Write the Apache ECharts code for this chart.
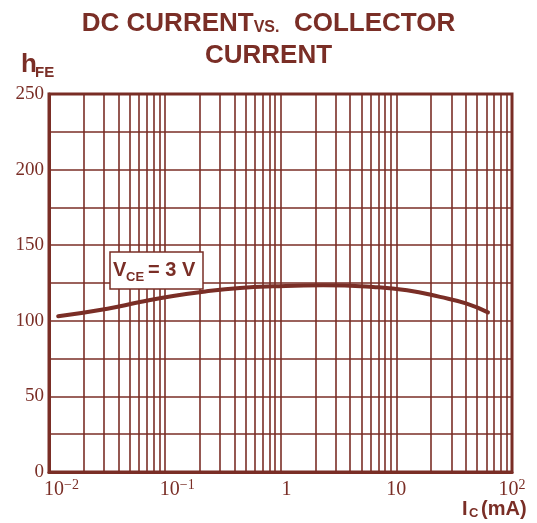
<!DOCTYPE html>
<html>
<head>
<meta charset="utf-8">
<style>
  html, body { margin: 0; padding: 0; background: #fff; }
  #chart { width: 537px; height: 523px; }
</style>
<script src="https://cdn.jsdelivr.net/npm/echarts@6/dist/echarts.min.js"></script>
</head>
<body>
<div id="chart"></div>
<script>
// hFE vs Ic curve at VCE = 3 V
const icValues = [0.012, 0.032, 0.061, 0.118, 0.23, 0.447, 0.86, 2.33, 6.3, 12.4, 23.9, 40, 62];
const hfeValues = [103, 108, 112.4, 116.4, 119.5, 121.7, 122.8, 123.5, 122.4, 120.2, 115.8, 111.5, 105.6];

// x axis decades and their labels (base + superscript)
const xDecades = [0.01, 0.1, 1, 10, 100];
const xTickBase = ['10', '10', '1', '10', '10'];
const xTickSup = ['−2', '−1', '', '', '2'];
// minor log grid lines inside each decade
const minorSteps = [2, 3, 4, 5, 6, 7, 8, 9];

const yTicks = [0, 50, 100, 150, 200, 250];

const brown = '#7a2e26';
const serif = '"Liberation Serif", "DejaVu Serif", serif';
const sans = '"Liberation Sans", Arial, sans-serif';

const minorLines = [];
xDecades.slice(0, -1).forEach(d => {
  minorSteps.forEach(m => minorLines.push({ xAxis: +(d * m).toPrecision(3) }));
});

const chart = echarts.init(document.getElementById('chart'));

const option = {
  animation: false,
  title: {
    left: 'center',
    top: 3,
    text: '{a|DC CURRENT}{v|VS.}{a|  COLLECTOR}\n{a|CURRENT}',
    textStyle: {
      rich: {
        a: { fontFamily: sans, fontWeight: 'bold', fontSize: 26, lineHeight: 32, color: brown },
        v: { fontFamily: sans, fontWeight: 'bold', fontSize: 16, lineHeight: 32, padding: [8, 0, 0, 0], color: brown }
      }
    }
  },
  grid: {
    left: 49,
    right: 25,
    top: 94,
    bottom: 51,
    show: true,
    borderColor: brown,
    borderWidth: 3
  },
  xAxis: {
    type: 'log',
    logBase: 10,
    min: 0.01,
    max: 100,
    axisLine: { show: true, lineStyle: { color: brown, width: 3 } },
    axisTick: { show: false },
    splitLine: { show: true, lineStyle: { color: brown, width: 1.6 } },
    axisLabel: {
      margin: 6,
      formatter: function (v) {
        const exp = Math.round(Math.log10(v));
        const i = xDecades.findIndex(d => Math.round(Math.log10(d)) === exp);
        if (i < 0) return '';
        let gap = '';
        if (exp < 0) gap = '{g2|}';
        else if (exp === 0) gap = '{g1|}';
        const sup = xTickSup[i] ? '{s|' + xTickSup[i] + '}' : '';
        return gap + '{b|' + xTickBase[i] + '}' + sup;
      },
      rich: {
        g2: { width: 25 },
        g1: { width: 12 },
        b: { fontFamily: serif, fontSize: 20, lineHeight: 22, color: brown, verticalAlign: 'bottom' },
        s: { fontFamily: serif, fontSize: 14, lineHeight: 14, color: brown, verticalAlign: 'top' }
      }
    }
  },
  yAxis: {
    type: 'value',
    min: 0,
    max: 250,
    interval: 25,
    axisLine: { show: true, lineStyle: { color: brown, width: 3 } },
    axisTick: { show: false },
    splitLine: { show: true, lineStyle: { color: brown, width: 1.6 } },
    axisLabel: {
      margin: 5,
      fontFamily: serif,
      fontSize: 19,
      color: brown,
      formatter: v => (yTicks.indexOf(v) >= 0 ? String(v) : '')
    }
  },
  series: [
    {
      type: 'line',
      data: icValues.map((x, i) => [x, hfeValues[i]]),
      smooth: 0.5,
      symbol: 'none',
      z: 5,
      lineStyle: { color: brown, width: 4, cap: 'round' },
      markLine: {
        silent: true,
        animation: false,
        symbol: ['none', 'none'],
        label: { show: false },
        lineStyle: { color: brown, width: 1.6, type: 'solid' },
        data: minorLines
      }
    }
  ],
  graphic: [
    // hFE
    { type: 'text', z: 100, style: { x: 21, y: 65, text: 'h', fontFamily: sans, fontWeight: 'bold', fontSize: 26, fill: brown, verticalAlign: 'middle' } },
    { type: 'text', z: 100, style: { x: 35, y: 72.5, text: 'FE', fontFamily: sans, fontWeight: 'bold', fontSize: 15, fill: brown, verticalAlign: 'middle' } },
    // Ic(mA)
    { type: 'text', z: 100, style: { x: 462, y: 509.5, text: 'I', fontFamily: sans, fontWeight: 'bold', fontSize: 20, fill: brown, verticalAlign: 'middle' } },
    { type: 'text', z: 100, style: { x: 469, y: 513.5, text: 'C', fontFamily: sans, fontWeight: 'bold', fontSize: 13, fill: brown, verticalAlign: 'middle' } },
    { type: 'text', z: 100, style: { x: 481, y: 509.5, text: '(mA)', fontFamily: sans, fontWeight: 'bold', fontSize: 20, fill: brown, verticalAlign: 'middle' } },
    // VCE = 3 V annotation box
    { type: 'rect', z: 100, shape: { x: 110, y: 252, width: 93, height: 37 }, style: { fill: '#fff', stroke: brown, lineWidth: 1.5 } },
    { type: 'text', z: 101, style: { x: 113, y: 270.5, text: 'V', fontFamily: sans, fontWeight: 'bold', fontSize: 20, fill: brown, verticalAlign: 'middle' } },
    { type: 'text', z: 101, style: { x: 126, y: 277, text: 'CE', fontFamily: sans, fontWeight: 'bold', fontSize: 13, fill: brown, verticalAlign: 'middle' } },
    { type: 'text', z: 101, style: { x: 148, y: 270.5, text: '= 3 V', fontFamily: sans, fontWeight: 'bold', fontSize: 20, fill: brown, verticalAlign: 'middle' } }
  ]
};

chart.setOption(option);
</script>
</body>
</html>
